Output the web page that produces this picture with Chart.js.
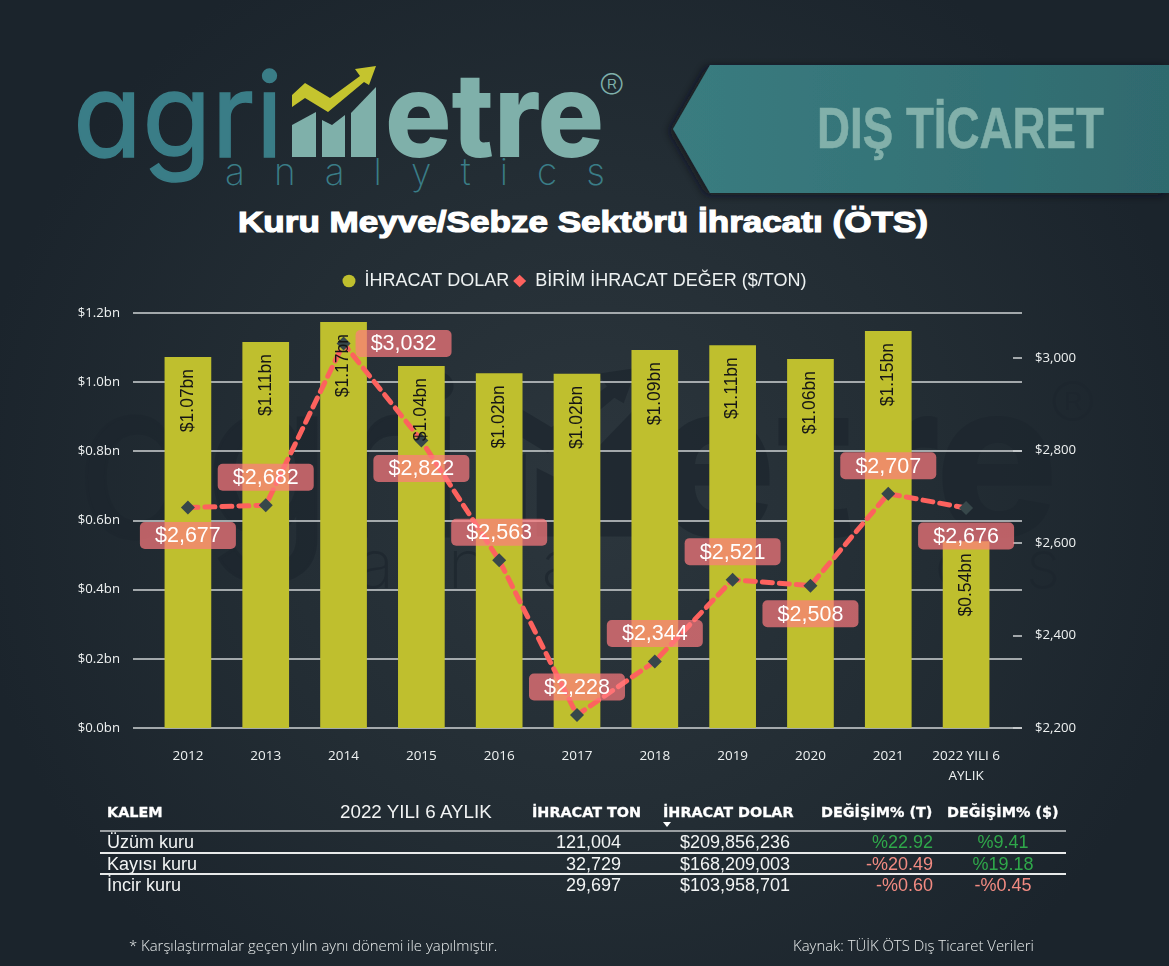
<!DOCTYPE html>
<html lang="tr">
<head>
<meta charset="utf-8">
<title>Kuru Meyve/Sebze Sektörü İhracatı (ÖTS)</title>
<script src="https://cdn.jsdelivr.net/npm/chart.js@4/dist/chart.umd.min.js"></script>
<style>
    html, body { margin: 0; padding: 0; background: #1c252e; }
    #page { position: relative; width: 1169px; height: 966px; overflow: hidden; font-family: "Liberation Sans", Arial, sans-serif; color: #f2f4f4; }
    #back, #chart { position: absolute; left: 0; top: 0; }
    #table span { position: absolute; white-space: nowrap; line-height: 20px; }
    #table i { position: absolute; height: 0; }
    .head { font-family: "DejaVu Sans", sans-serif; font-weight: 700; font-size: 14.4px; color: #fff; -webkit-text-stroke: 0.3px #fff; }
    .cell { font-size: 18px; }
    .note { position: absolute; top: 935px; font-family: "Open Sans", sans-serif; font-weight: 300; font-size: 14.9px; color: #e6eaea; line-height: 20px; white-space: nowrap; }
    #logo text { font-family: Inter, Lato, sans-serif; }
</style>
</head>
<body>
<div id="page">
    <svg id="back" width="1169" height="966" viewBox="0 0 1169 966">
        <defs>
            <radialGradient id="bg" gradientUnits="userSpaceOnUse" cx="590" cy="500" r="620">
                <stop offset="0" stop-color="#2c363d"/>
                <stop offset="0.55" stop-color="#232d34"/>
                <stop offset="1" stop-color="#1b242c"/>
            </radialGradient>
            <linearGradient id="banner" x1="0" x2="1" y1="0" y2="0">
                <stop offset="0" stop-color="#3a7c80"/>
                <stop offset="1" stop-color="#2f6a6e"/>
            </linearGradient>
            <filter id="soft" x="-10%" width="120%"><feDropShadow dx="-4" dy="2" stdDeviation="5" flood-color="#10161b" flood-opacity="0.7"/></filter>
            <g id="logo">
                <text x="73" y="157" font-size="117" font-weight="400" textLength="210" lengthAdjust="spacingAndGlyphs" style="font-feature-settings:'cv11';fill:var(--dark);stroke:var(--dark);stroke-width:1.5">agri</text>
                <polygon points="292,125 316,112 316,157 292,157" style="fill:var(--light)"/>
                <polygon points="322,120 332,125 345,115 345,157 322,157" style="fill:var(--light)"/>
                <polygon points="351,113 376,87 376,157 351,157" style="fill:var(--light)"/>
                <polygon points="292,95 305,83 330,98 360,76 355,69 376,66 369,85 364,82 328,112 305,98 292,107" style="fill:var(--accent)"/>
                <text x="385" y="157" font-size="117" font-weight="800" textLength="219" lengthAdjust="spacingAndGlyphs" style="fill:var(--light)">etre</text>
                <text x="225" y="185" font-size="37" font-weight="200" textLength="380" style="fill:var(--dark)">analytics</text>
                <text x="599" y="101" font-size="38" font-weight="200" style="fill:var(--light)">®</text>
            </g>
        </defs>
        <rect width="1169" height="966" fill="url(#bg)"/>
        <use href="#logo" transform="translate(-59 246) scale(1.85)" style="--dark:#1d262e;--light:#1d262e;--accent:#1d262e" opacity="0.75"/>
        <use href="#logo" style="--dark:#3a7d87;--light:#7fb0aa;--accent:#c5c42e"/>
        <polygon points="673,129 710,65 1169,65 1169,193 710,193" fill="url(#banner)" filter="url(#soft)"/>
        <text x="817" y="148" font-family="Liberation Sans Narrow, Liberation Sans" font-weight="700" font-size="58" fill="#82b0aa" stroke="#82b0aa" stroke-width="0.6" textLength="287" lengthAdjust="spacingAndGlyphs">DIŞ TİCARET</text>
        <text x="238" y="232" font-family="Liberation Sans" font-weight="700" font-size="30" fill="#fff" stroke="#fff" stroke-width="1.2" textLength="690" lengthAdjust="spacingAndGlyphs">Kuru Meyve/Sebze Sektörü İhracatı (ÖTS)</text>
    </svg>
    <canvas id="chart" width="1169" height="966"></canvas>
    <div id="table"></div>
    <div class="note" style="left:129px">* Karşılaştırmalar geçen yılın aynı dönemi ile yapılmıştır.</div>
    <div class="note" style="left:793px">Kaynak: TÜİK ÖTS Dış Ticaret Verileri</div>
</div>
<script>
const years = ['2012', '2013', '2014', '2015', '2016', '2017', '2018', '2019', '2020', '2021', ['2022 YILI 6', 'AYLIK']];
const exportDollars = [1.073, 1.116, 1.174, 1.047, 1.026, 1.024, 1.093, 1.107, 1.067, 1.148, 0.54];
const exportLabels = ['$1.07bn', '$1.11bn', '$1.17bn', '$1.04bn', '$1.02bn', '$1.02bn', '$1.09bn', '$1.11bn', '$1.06bn', '$1.15bn', '$0.54bn'];
const unitValues = [2677, 2682, 3032, 2822, 2563, 2228, 2344, 2521, 2508, 2707, 2676];

const tableItems = ['Üzüm kuru', 'Kayısı kuru', 'İncir kuru'];
const tableTons = ['121,004', '32,729', '29,697'];
const tableDollars = ['$209,856,236', '$168,209,003', '$103,958,701'];
const tableChangeTon = ['%22.92', '-%20.49', '-%0.60'];
const tableChangeDollar = ['%9.41', '%19.18', '-%0.45'];

// where each value pill sits relative to its point
const pillSides = ['below', 'above', 'right', 'below', 'above', 'above', 'above', 'above', 'below', 'above', 'below'];

const GRID_LEFT = 133;
const GRID_RIGHT = 1022;

function moneyLabel(v) {
    return '$' + v.toLocaleString('en-US');
}

function addCell(cls, text, style) {
    const el = document.createElement('span');
    el.className = cls;
    el.textContent = text;
    el.style.cssText = style;
    document.getElementById('table').appendChild(el);
}

function addRule(top, height, color) {
    const el = document.createElement('i');
    el.style.cssText = `left:100px;width:966px;top:${top}px;height:${height}px;background:${color}`;
    document.getElementById('table').appendChild(el);
}

function changeColor(text) {
    return text.startsWith('-') ? '#f28b82' : '#2fa84a';
}

function renderTable() {
    addCell('head', 'KALEM', 'left:107px;top:802px');
    addCell('cell', '2022 YILI 6 AYLIK', 'left:340px;top:802px;font-size:18.8px');
    addCell('head', 'İHRACAT TON', 'left:532px;top:802px');
    addCell('head', 'İHRACAT DOLAR', 'left:663px;top:802px');
    addCell('head', 'DEĞİŞİM% (T)', 'left:821px;top:802px');
    addCell('head', 'DEĞİŞİM% ($)', 'left:947px;top:802px');
    addRule(830, 2, '#9a9fa2');
    addRule(852, 1.5, '#e8eaea');
    addRule(873, 1.5, '#e8eaea');
    const marker = document.createElement('i');
    marker.style.cssText = 'left:663px;top:822px;width:0;border-left:4.5px solid transparent;border-right:4.5px solid transparent;border-top:5px solid #fff';
    document.getElementById('table').appendChild(marker);

    const rowTops = [832, 854, 875];
    tableItems.forEach((item, i) => {
        const top = `top:${rowTops[i]}px;`;
        addCell('cell', item, top + 'left:107px');
        addCell('cell', tableTons[i], top + 'right:548px');
        addCell('cell', tableDollars[i], top + 'left:680px');
        addCell('cell', tableChangeTon[i], top + 'right:236px;color:' + changeColor(tableChangeTon[i]));
        addCell('cell', tableChangeDollar[i], top + 'left:1003px;transform:translateX(-50%);color:' + changeColor(tableChangeDollar[i]));
    });
}

// legend sits a little higher and further left than the library would put it
const legendPlugin = {
    id: 'legendGap',
    beforeInit(chart) {
        const fit = chart.legend.fit;
        chart.legend.fit = function () {
            fit.call(this);
            this.height += 13;
        };
    },
    afterLayout(chart) {
        chart.legend.right -= 20;
    },
};

// gridlines run past the plot on both sides, so they are drawn from the y scale here
const gridPlugin = {
    id: 'wideGrid',
    beforeDatasetsDraw(chart) {
        const { ctx, scales } = chart;
        ctx.save();
        ctx.strokeStyle = '#cfd3d5';
        ctx.lineWidth = 1.5;
        scales.y.ticks.forEach(t => {
            const py = Math.round(scales.y.getPixelForValue(t.value));
            ctx.beginPath();
            ctx.moveTo(GRID_LEFT, py);
            ctx.lineTo(GRID_RIGHT, py);
            ctx.stroke();
        });
        scales.y2.ticks.forEach(t => {
            const py = Math.round(scales.y2.getPixelForValue(t.value));
            ctx.beginPath();
            ctx.moveTo(GRID_RIGHT - 9, py);
            ctx.lineTo(GRID_RIGHT, py);
            ctx.stroke();
        });
        ctx.restore();
    },
};

const labelPlugin = {
    id: 'valueLabels',
    afterDatasetsDraw(chart) {
        const { ctx } = chart;
        const points = chart.getDatasetMeta(0).data;
        const bars = chart.getDatasetMeta(1).data;

        ctx.save();
        ctx.fillStyle = '#161616';
        ctx.font = '17.5px "Liberation Sans"';
        ctx.textAlign = 'right';
        ctx.textBaseline = 'middle';
        bars.forEach((bar, i) => {
            ctx.save();
            ctx.translate(bar.x, bar.y + 12);
            ctx.rotate(-Math.PI / 2);
            ctx.fillText(exportLabels[i], 0, 0);
            ctx.restore();
        });

        ctx.font = '21.5px "Liberation Sans"';
        ctx.textAlign = 'center';
        points.forEach((pt, i) => {
            const side = pillSides[i];
            const cx = pt.x + (side === 'right' ? 60 : 0);
            const cy = pt.y + (side === 'above' ? -28 : side === 'below' ? 28 : 0);
            ctx.fillStyle = 'rgba(255, 123, 127, 0.7)';
            ctx.beginPath();
            ctx.roundRect(cx - 48, cy - 13.5, 96, 27, 5);
            ctx.fill();
            ctx.fillStyle = '#ffffff';
            ctx.fillText(moneyLabel(unitValues[i]), cx, cy + 1);
        });
        ctx.restore();
    },
};

function renderChart() {
    const tickFont = { family: '"Open Sans", sans-serif', size: 13.2 };
    new Chart(document.getElementById('chart'), {
        data: {
            labels: years,
            datasets: [
                {
                    type: 'line',
                    label: 'BİRİM İHRACAT DEĞER ($/TON)',
                    data: unitValues,
                    yAxisID: 'y2',
                    order: 1,
                    borderColor: '#fd625e',
                    borderWidth: 5,
                    borderDash: [10, 7],
                    borderCapStyle: 'round',
                    tension: 0,
                    pointStyle: 'rectRot',
                    pointRadius: 7,
                    pointBackgroundColor: '#37474a',
                    pointBorderWidth: 0,
                },
                {
                    type: 'bar',
                    label: 'İHRACAT DOLAR',
                    data: exportDollars,
                    yAxisID: 'y',
                    order: 2,
                    backgroundColor: '#bfbf2e',
                    categoryPercentage: 0.6,
                    barPercentage: 1,
                },
            ],
        },
        options: {
            responsive: false,
            animation: false,
            devicePixelRatio: 1,
            layout: { padding: { top: 268, bottom: 0 } },
            scales: {
                x: {
                    offset: true,
                    grid: { display: false },
                    border: { display: false },
                    afterFit: (s) => { s.height = 238; },
                    ticks: { color: '#eef1f1', font: { ...tickFont, size: 13.5, lineHeight: 1.5 }, padding: 10, maxRotation: 0, autoSkip: false },
                },
                y: {
                    position: 'left',
                    min: 0,
                    max: 1.2,
                    grid: { display: false },
                    border: { display: false },
                    afterFit: (s) => { s.width = 149; },
                    ticks: {
                        stepSize: 0.2,
                        color: '#eef1f1',
                        font: tickFont,
                        padding: 21,
                        callback: (v) => `$${v.toFixed(1)}bn`,
                    },
                },
                y2: {
                    position: 'right',
                    min: 2200,
                    max: 3098,
                    grid: { display: false },
                    border: { display: false },
                    afterFit: (s) => { s.width = 164; },
                    ticks: {
                        stepSize: 200,
                        includeBounds: false,
                        color: '#eef1f1',
                        font: tickFont,
                        padding: 22,
                        callback: (v) => moneyLabel(v),
                    },
                },
            },
            plugins: {
                tooltip: { enabled: false },
                legend: {
                    position: 'top',
                    labels: {
                        color: '#eef2f2',
                        font: { family: '"Liberation Sans"', size: 18 },
                        usePointStyle: true,
                        boxHeight: 9,
                        pointStyleWidth: 13,
                        padding: 4,
                        generateLabels: () => [
                            { text: 'İHRACAT DOLAR', fillStyle: '#bfbf2e', strokeStyle: '#bfbf2e', lineWidth: 0, pointStyle: 'circle', fontColor: '#eef2f2' },
                            { text: 'BİRİM İHRACAT DEĞER ($/TON)', fillStyle: '#fd625e', strokeStyle: '#fd625e', lineWidth: 0, pointStyle: 'rectRot', fontColor: '#eef2f2' },
                        ],
                    },
                },
            },
        },
        plugins: [legendPlugin, gridPlugin, labelPlugin],
    });
}

renderTable();
renderChart();
</script>
</body>
</html>
